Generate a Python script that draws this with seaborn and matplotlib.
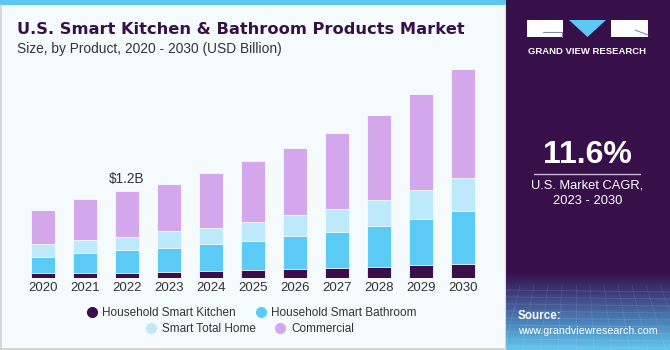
import numpy as np
import pandas as pd
import seaborn as sns
import matplotlib.pyplot as plt
from matplotlib.patches import Rectangle, Polygon
from matplotlib.lines import Line2D
from matplotlib.colors import LinearSegmentedColormap

# values (USD Billion)
years = ["2020", "2021", "2022", "2023", "2024", "2025", "2026", "2027", "2028", "2029", "2030"]
kitchen = [0.069, 0.069, 0.077, 0.087, 0.101, 0.114, 0.124, 0.138, 0.156, 0.183, 0.197]
bathroom = [0.225, 0.276, 0.313, 0.331, 0.372, 0.404, 0.455, 0.501, 0.566, 0.634, 0.731]
total_home = [0.175, 0.188, 0.183, 0.230, 0.225, 0.262, 0.290, 0.321, 0.363, 0.404, 0.451]
commercial = [0.473, 0.557, 0.627, 0.657, 0.750, 0.837, 0.924, 1.044, 1.168, 1.320, 1.503]

segments = ["Household Smart Kitchen", "Household Smart Bathroom", "Smart Total Home", "Commercial"]
colors = ["#3A0F4B", "#5BCBF5", "#BEE9FA", "#D4A7EC"]

df = pd.DataFrame({"Year": years, segments[0]: kitchen, segments[1]: bathroom,
                   segments[2]: total_home, segments[3]: commercial})
cum = df[segments].cumsum(axis=1)

W, H = 670, 350
bg = "#F5FAFD"
panel = "#37104A"

sns.set_theme(style="white")
plt.rcParams["font.family"] = ["Liberation Sans", "DejaVu Sans"]

fig = plt.figure(figsize=(6.7, 3.5), dpi=100)
fig.patch.set_facecolor(bg)

# main bar axes (pixel-based placement)
ax = fig.add_axes([22 / W, (H - 278.3) / H, 462 / W, 217.5 / H])
ax.set_facecolor(bg)
# stacked bars: draw cumulative totals from top segment down
for i in range(len(segments) - 1, -1, -1):
    sns.barplot(x=df["Year"], y=cum[segments[i]], color=colors[i], width=0.57,
                saturation=1, edgecolor=bg, linewidth=0.6, ax=ax)
ax.set_ylim(0, 3.0)
ax.set_xlim(-0.5, 10.5)
ax.set_xlabel("")
ax.set_ylabel("")
ax.set_yticks([])
sns.despine(ax=ax, left=True, bottom=True)
ax.tick_params(axis="x", labelsize=9.5, colors="#333333", pad=3, length=0)

ax.text(2, cum[segments[3]][2] + 0.08, "$1.2B", ha="center", va="bottom",
        fontsize=9.8, color="#333333")

# titles
fig.text(17 / W, 1 - 30 / H, "U.S. Smart Kitchen & Bathroom Products Market",
         fontsize=11.7, fontweight="bold", family="DejaVu Sans", color="#37104A",
         va="center", ha="left")
fig.text(17 / W, 1 - 49 / H, "Size, by Product, 2020 - 2030 (USD Billion)",
         fontsize=9.9, color="#333333", va="center", ha="left")

# legend, two centred rows
def handle(c):
    return Line2D([], [], marker="o", linestyle="", markersize=7,
                  markerfacecolor=c, markeredgecolor=c)

leg_kw = dict(frameon=False, ncol=2, fontsize=8.5, handlelength=0.8,
              handletextpad=0.5, columnspacing=1.7, borderpad=0,
              labelcolor="#333333", loc="center")
fig.legend([handle(colors[0]), handle(colors[1])], segments[:2],
           bbox_to_anchor=(252 / W, 1 - 313 / H), **leg_kw)
fig.legend([handle(colors[2]), handle(colors[3])], segments[2:],
           bbox_to_anchor=(250 / W, 1 - 329 / H), **leg_kw)

# top stripe and borders
fig.add_artist(Rectangle((0, 1 - 5 / H), 506 / W, 5 / H, transform=fig.transFigure,
                         color="#5CC6F0", lw=0))
fig.add_artist(Line2D([0.5 / W, 0.5 / W], [0, 1 - 5 / H], transform=fig.transFigure,
                      color="#CFCFCF", lw=1.2))
fig.add_artist(Line2D([0, 506 / W], [1.2 / H, 1.2 / H], transform=fig.transFigure,
                      color="#CFCFCF", lw=1.2))
fig.add_artist(Line2D([505 / W, 505 / W], [0, 1 - 5 / H], transform=fig.transFigure,
                      color="#D8D8D8", lw=0.8))

# right panel with gradient bottom
pax = fig.add_axes([506 / W, 0, 164 / W, 1])
pax.set_axis_off()
cmap = LinearSegmentedColormap.from_list(
    "panel", [(0, panel), (0.78, panel), (0.84, "#3D3C7A"), (0.92, "#4A80B8"), (1, "#62C4EC")])
grad = np.linspace(0, 1, 350).reshape(-1, 1)
pax.imshow(grad, aspect="auto", cmap=cmap, extent=[0, 164, 350, 0])
# faint grid texture at the bottom
for k in range(9):
    yy = 290 + k * 7
    pax.plot([0, 164], [yy, yy + 2], color="white", alpha=0.12, lw=0.6)
for k in range(-6, 16):
    pax.plot([k * 14, k * 14 + (k - 5) * 4], [285, 350], color="white", alpha=0.1, lw=0.6)
pax.set_xlim(0, 164)
pax.set_ylim(350, 0)

# logo
pax.add_patch(Rectangle((21, 20), 36, 17, color="white", lw=0))
pax.plot([37, 56], [32, 32], color="#8A8A9A", lw=0.8)
pax.plot([56, 56], [32, 37], color="#8A8A9A", lw=0.8)
pax.add_patch(Polygon([(63, 20), (100, 20), (81.5, 37)], color="#5BC8F5", lw=0))
pax.add_patch(Rectangle((105, 20), 37, 17, color="white", lw=0))
pax.plot([129, 142], [30, 35], color="#8A8A9A", lw=0.8)
pax.text(81.5, 51, "GRAND VIEW RESEARCH", color="white", fontsize=6.8,
         fontweight="bold", ha="center", va="center")

# CAGR
pax.text(81.5, 155, "11.6%", color="white", fontsize=23, fontweight="bold",
         ha="center", va="center")
pax.plot([28, 134], [173.5, 173.5], color="#CBBBD8", lw=1)
pax.text(81.5, 193, "U.S. Market CAGR,\n2023 - 2030", color="white", fontsize=9.3,
         ha="center", va="center", linespacing=1.35)

# source
pax.text(12, 316, "Source:", color="white", fontsize=8.4, fontweight="bold",
         ha="left", va="center")
pax.text(12, 331, "www.grandviewresearch.com", color="white", fontsize=7.7,
         ha="left", va="center")

fig.savefig("out.png", dpi=100, facecolor=fig.get_facecolor())
